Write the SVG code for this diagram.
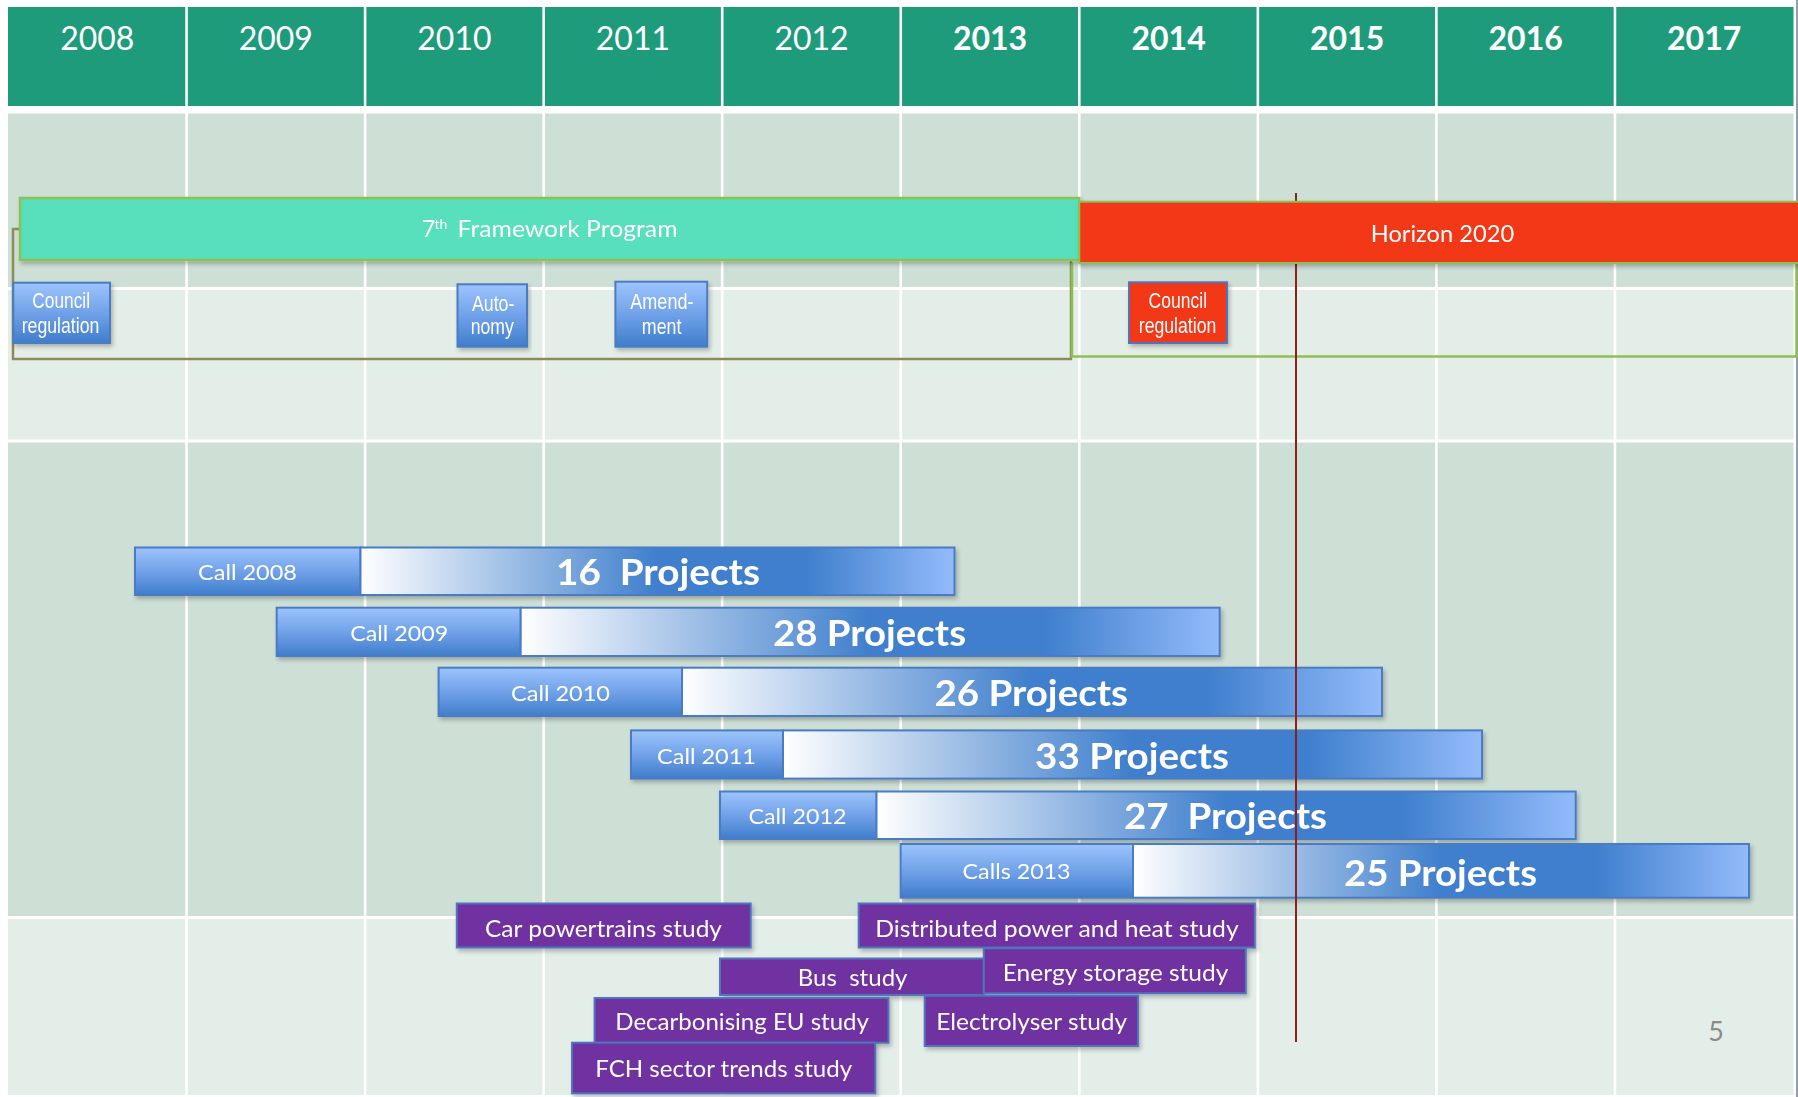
<svg xmlns="http://www.w3.org/2000/svg" width="1798" height="1097" viewBox="0 0 1798 1097">
<style>
text{font-family:Lato,"Liberation Sans",sans-serif;fill:#fff}
.yr{font-size:32px;text-anchor:middle}
.yrb{font-weight:bold}
.call{font-size:22px}
.proj{font-size:36px;font-weight:bold;white-space:pre}
.study{font-size:24px;white-space:pre}
.small{font-family:"Liberation Sans Narrow","Liberation Sans",sans-serif;font-size:22.5px}
.prog{font-size:23px}
.cseg{fill:url(#callGrad);stroke:#4a7cc4;stroke-width:2}
.pseg{fill:url(#projGrad);stroke:#4a7cc4;stroke-width:2}
.stb{fill:#7030a0;stroke:#4f74bd;stroke-width:2}
.bbox{fill:url(#callGrad);stroke:#4a7cc4;stroke-width:2}
.rowd{fill:#cedfd6}
.rowl{fill:#e4eee9}
.vline{stroke:#fff;stroke-width:2.6}
</style>
<defs>
<linearGradient id="callGrad" x1="0" y1="0" x2="0" y2="1">
<stop offset="0" stop-color="#9dc4fd"/>
<stop offset="0.55" stop-color="#6c9ee6"/>
<stop offset="1" stop-color="#3f7dcc"/>
</linearGradient>
<linearGradient id="projGrad" x1="0" y1="0" x2="1" y2="0">
<stop offset="0" stop-color="#ffffff"/>
<stop offset="0.5" stop-color="#3f7fcd"/>
<stop offset="0.75" stop-color="#3f7fcd"/>
<stop offset="1" stop-color="#93bbfa"/>
</linearGradient>
<filter id="sh" x="-5%" y="-20%" width="112%" height="160%">
<feDropShadow dx="2" dy="3" stdDeviation="2" flood-color="#000" flood-opacity="0.25"/>
</filter>
</defs>
<rect width="1798" height="1097" fill="#fff"/>

<g id="header">
<rect x="8" y="7" width="1785.5" height="99" fill="#1e9b7a"/>
</g>

<g id="grid">
<rect class="rowd" x="8" y="113.5" width="1785.5" height="173.5"/>
<rect class="rowl" x="8" y="290" width="1785.5" height="149.5"/>
<rect class="rowd" x="8" y="442.5" width="1785.5" height="473.5"/>
<rect class="rowl" x="8" y="919" width="1785.5" height="176"/>
<g class="vline">
<line x1="186.55" y1="7" x2="186.55" y2="1095"/>
<line x1="365.1" y1="7" x2="365.1" y2="1095"/>
<line x1="543.65" y1="7" x2="543.65" y2="1095"/>
<line x1="722.2" y1="7" x2="722.2" y2="1095"/>
<line x1="900.75" y1="7" x2="900.75" y2="1095"/>
<line x1="1079.3" y1="7" x2="1079.3" y2="1095"/>
<line x1="1257.85" y1="7" x2="1257.85" y2="1095"/>
<line x1="1436.4" y1="7" x2="1436.4" y2="1095"/>
<line x1="1614.95" y1="7" x2="1614.95" y2="1095"/>
</g>
<line x1="1797" y1="0" x2="1797" y2="1097" stroke="#6d8196" stroke-width="1.5"/>
</g>

<g id="years">
<text class="yr" x="97.3" y="50">2008</text>
<text class="yr" x="275.8" y="50">2009</text>
<text class="yr" x="454.4" y="50">2010</text>
<text class="yr" x="632.9" y="50">2011</text>
<text class="yr" x="811.5" y="50">2012</text>
<text class="yr yrb" x="990" y="50">2013</text>
<text class="yr yrb" x="1168.6" y="50">2014</text>
<text class="yr yrb" x="1347.1" y="50">2015</text>
<text class="yr yrb" x="1525.7" y="50">2016</text>
<text class="yr yrb" x="1704.2" y="50">2017</text>
</g>

<g id="calls">
<g id="call-2008" filter="url(#sh)">
<rect class="cseg" x="135" y="547.5" width="225.5" height="47.5"/>
<rect class="pseg" x="360.5" y="547.5" width="594" height="47.5"/>
<text class="call" x="198" y="580" textLength="99" lengthAdjust="spacingAndGlyphs">Call 2008</text>
<text class="proj" x="556" y="585" textLength="204" lengthAdjust="spacingAndGlyphs">16  Projects</text>
</g>
<g id="call-2009" filter="url(#sh)">
<rect class="cseg" x="276.7" y="607.7" width="244" height="48.3"/>
<rect class="pseg" x="520.7" y="607.7" width="699" height="48.3"/>
<text class="call" x="350.2" y="641" textLength="98" lengthAdjust="spacingAndGlyphs">Call 2009</text>
<text class="proj" x="773" y="646" textLength="193" lengthAdjust="spacingAndGlyphs">28 Projects</text>
</g>
<g id="call-2010" filter="url(#sh)">
<rect class="cseg" x="438.6" y="667.7" width="243.4" height="48.3"/>
<rect class="pseg" x="682" y="667.7" width="700" height="48.3"/>
<text class="call" x="511" y="701" textLength="99" lengthAdjust="spacingAndGlyphs">Call 2010</text>
<text class="proj" x="934.4" y="705.5" textLength="193.6" lengthAdjust="spacingAndGlyphs">26 Projects</text>
</g>
<g id="call-2011" filter="url(#sh)">
<rect class="cseg" x="631" y="730.4" width="152" height="48.2"/>
<rect class="pseg" x="783" y="730.4" width="699" height="48.2"/>
<text class="call" x="657" y="763.5" textLength="99" lengthAdjust="spacingAndGlyphs">Call 2011</text>
<text class="proj" x="1035" y="768.5" textLength="194" lengthAdjust="spacingAndGlyphs">33 Projects</text>
</g>
<g id="call-2012" filter="url(#sh)">
<rect class="cseg" x="720" y="791.5" width="156.5" height="47.5"/>
<rect class="pseg" x="876.5" y="791.5" width="699.2" height="47.5"/>
<text class="call" x="748.5" y="824" textLength="98" lengthAdjust="spacingAndGlyphs">Call 2012</text>
<text class="proj" x="1124" y="829" textLength="203" lengthAdjust="spacingAndGlyphs">27  Projects</text>
</g>
<g id="calls-2013" filter="url(#sh)">
<rect class="cseg" x="900.6" y="844" width="232.4" height="53.7"/>
<rect class="pseg" x="1133" y="844" width="616" height="53.7"/>
<text class="call" x="962.6" y="879" textLength="108" lengthAdjust="spacingAndGlyphs">Calls 2013</text>
<text class="proj" x="1344" y="886" textLength="193" lengthAdjust="spacingAndGlyphs">25 Projects</text>
</g>
</g>

<g id="studies">
<g id="study-car" filter="url(#sh)">
<rect class="stb" x="456.8" y="903.5" width="293.9" height="44"/>
<text class="study" x="485" y="936.5" textLength="237" lengthAdjust="spacingAndGlyphs">Car powertrains study</text>
</g>
<g id="study-distributed" filter="url(#sh)">
<rect class="stb" x="858.7" y="903.5" width="396.1" height="44"/>
<text class="study" x="875.3" y="936.5" textLength="363.4" lengthAdjust="spacingAndGlyphs">Distributed power and heat study</text>
</g>
<g id="study-bus" filter="url(#sh)">
<rect class="stb" x="720" y="958.5" width="263.8" height="36.5"/>
<text class="study" x="797.8" y="986" textLength="109.7" lengthAdjust="spacingAndGlyphs">Bus  study</text>
</g>
<g id="study-energy" filter="url(#sh)">
<rect class="stb" x="983.8" y="948.3" width="262" height="45"/>
<text class="study" x="1002.8" y="980.5" textLength="225.6" lengthAdjust="spacingAndGlyphs">Energy storage study</text>
</g>
<g id="study-decarbonising" filter="url(#sh)">
<rect class="stb" x="594.6" y="998" width="293.9" height="44.7"/>
<text class="study" x="615.3" y="1030" textLength="253.7" lengthAdjust="spacingAndGlyphs">Decarbonising EU study</text>
</g>
<g id="study-electrolyser" filter="url(#sh)">
<rect class="stb" x="924.7" y="995.7" width="213.3" height="50.3"/>
<text class="study" x="936.2" y="1030" textLength="191" lengthAdjust="spacingAndGlyphs">Electrolyser study</text>
</g>
<g id="study-fch" filter="url(#sh)">
<rect class="stb" x="572" y="1042.7" width="303.3" height="50.6"/>
<text class="study" x="595.2" y="1077" textLength="257" lengthAdjust="spacingAndGlyphs">FCH sector trends study</text>
</g>
</g>

<g id="connectors" fill="none">
<path d="M20,229 H13 V359 H1071 V260" stroke="#8d8b57" stroke-width="2.5"/>
<path d="M1072,263 V356.5 H1796.5 V263" stroke="#8cc152" stroke-width="2.5"/>
<line x1="1296" y1="193" x2="1296" y2="1042" stroke="#8b1f1f" stroke-width="2"/>
</g>

<g id="programs">
<g id="fp7" filter="url(#sh)">
<rect x="20" y="198" width="1059.3" height="62" fill="#59dfbb" stroke="#8cc152" stroke-width="2.5"/>
<text class="prog"><tspan x="422" y="237.3">7</tspan><tspan x="434.6" y="229" font-size="14">th </tspan><tspan x="457.5" y="237.3" textLength="220" lengthAdjust="spacingAndGlyphs">Framework Program</tspan></text>
</g>
<g id="h2020" filter="url(#sh)">
<rect x="1079.3" y="201.7" width="730" height="61.3" fill="#f23814" stroke="#8cc152" stroke-width="2"/>
<text class="prog" x="1370.7" y="241.7" textLength="143.5" lengthAdjust="spacingAndGlyphs">Horizon 2020</text>
</g>
</g>

<g id="events">
<g id="council-2008" filter="url(#sh)">
<rect class="bbox" x="13.3" y="282.7" width="96.7" height="60.3"/>
<text class="small" x="32.3" y="308.3" textLength="57.7" lengthAdjust="spacingAndGlyphs">Council</text>
<text class="small" x="21.7" y="333.3" textLength="77.6" lengthAdjust="spacingAndGlyphs">regulation</text>
</g>
<g id="autonomy" filter="url(#sh)">
<rect class="bbox" x="457.5" y="284.3" width="69.5" height="62.4"/>
<text class="small" x="471.9" y="310.7" textLength="42.5" lengthAdjust="spacingAndGlyphs">Auto-</text>
<text class="small" x="470.7" y="334" textLength="43" lengthAdjust="spacingAndGlyphs">nomy</text>
</g>
<g id="amendment" filter="url(#sh)">
<rect class="bbox" x="615.4" y="281.7" width="91.8" height="65"/>
<text class="small" x="630.3" y="309" textLength="63.2" lengthAdjust="spacingAndGlyphs">Amend-</text>
<text class="small" x="641.8" y="334" textLength="39.6" lengthAdjust="spacingAndGlyphs">ment</text>
</g>
<g id="council-2014" filter="url(#sh)">
<rect x="1129" y="282.3" width="98" height="60.7" fill="#f23814" stroke="#4f74bd" stroke-width="2"/>
<text class="small" x="1148.6" y="308.3" textLength="58.5" lengthAdjust="spacingAndGlyphs">Council</text>
<text class="small" x="1138.8" y="333.3" textLength="77.5" lengthAdjust="spacingAndGlyphs">regulation</text>
</g>
</g>

<g id="page-number">
<text x="1716" y="1041" font-size="27" text-anchor="middle" style="fill:#8a8a8a">5</text>
</g>
</svg>
